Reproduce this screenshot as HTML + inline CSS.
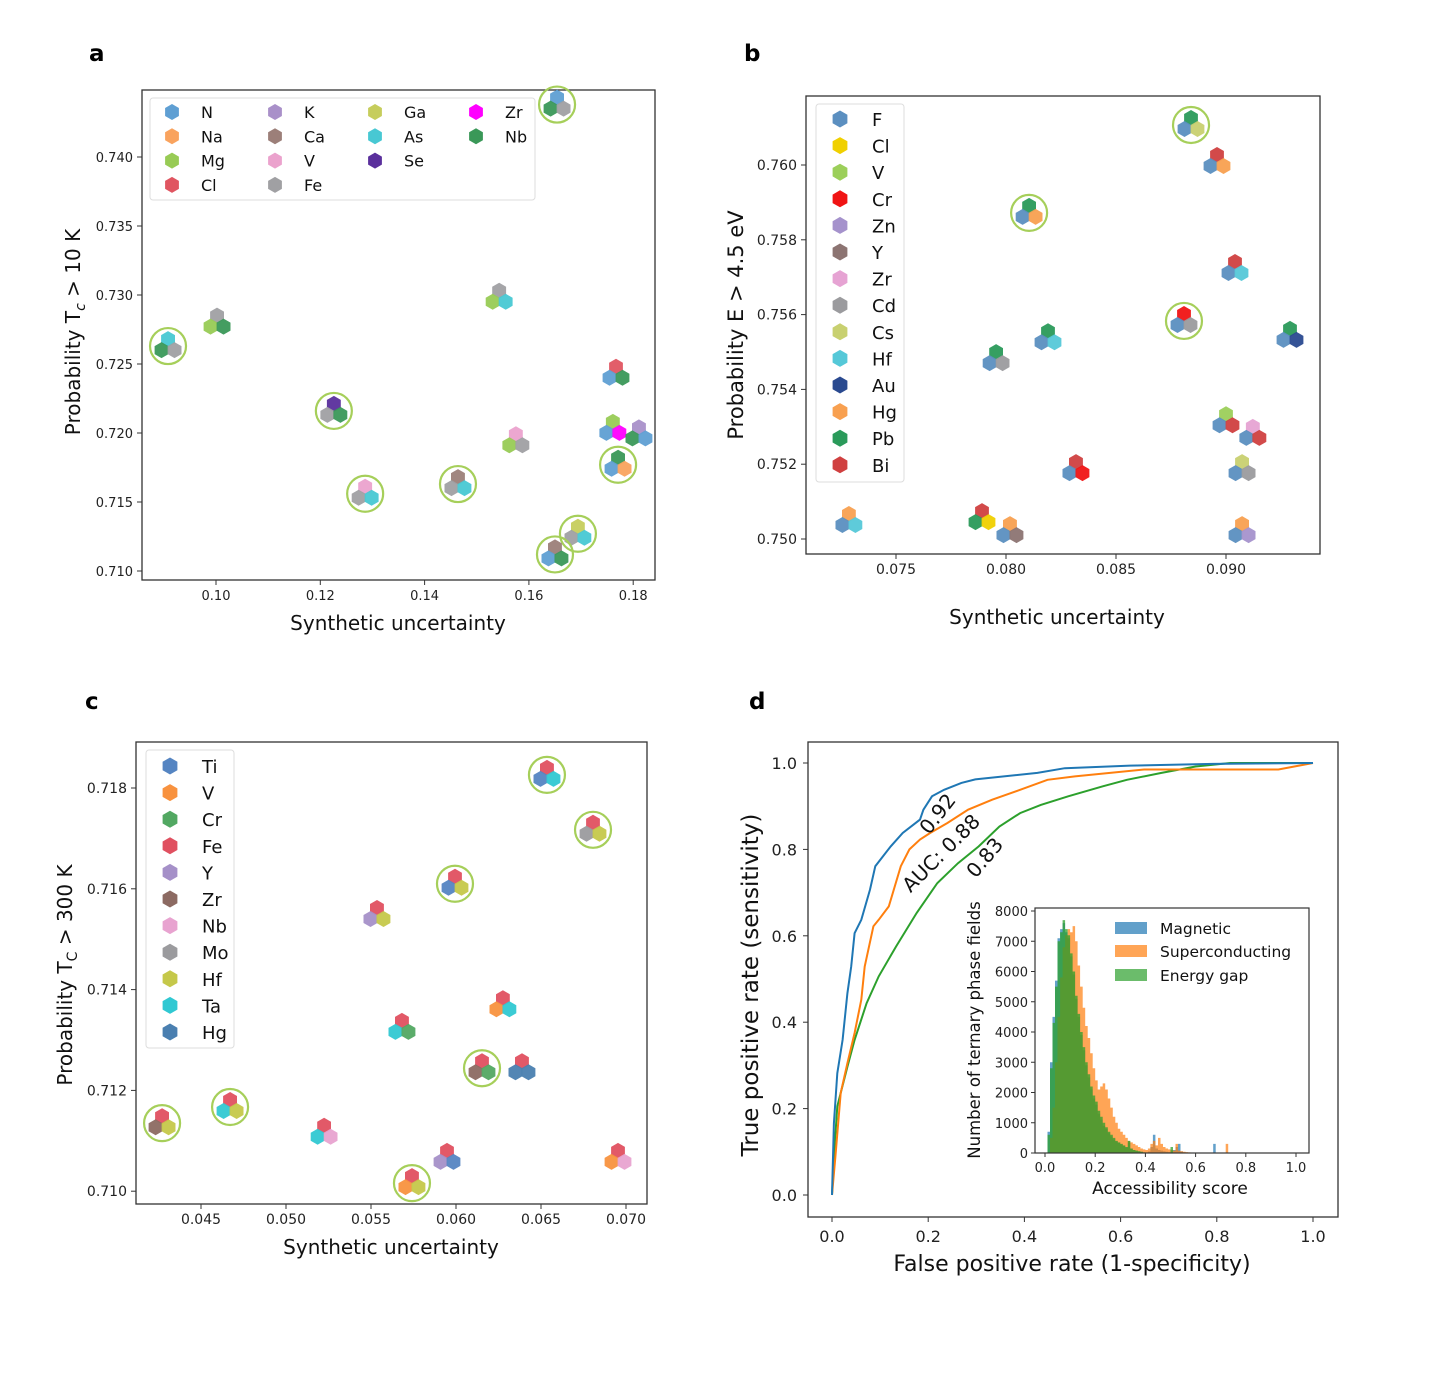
<!DOCTYPE html>
<html><head><meta charset="utf-8">
<style>
html,body{margin:0;padding:0;background:#fff;}
svg{display:block;font-family:"DejaVu Sans","Liberation Sans",sans-serif;}
</style></head>
<body>
<svg id="fig" width="1430" height="1396" viewBox="0 0 1430 1396" xmlns="http://www.w3.org/2000/svg">
<rect x="0" y="0" width="1430" height="1396" fill="#fff"/>
<text x="89" y="61" font-size="23" font-weight="bold">a</text>
<text x="744" y="61" font-size="23" font-weight="bold">b</text>
<text x="85" y="709" font-size="23" font-weight="bold">c</text>
<text x="749" y="709" font-size="23" font-weight="bold">d</text>
</svg>
<script>
// ---------- Panel a data ----------
const aX = [0.1654,0.0908,0.1002,0.1543,0.1226,0.1767,0.1761,0.1811,0.1771,0.1575,0.1286,0.1464,0.1694,0.1650];
const aY = [0.7438,0.7263,0.7280,0.7298,0.7216,0.7243,0.7203,0.7199,0.7177,0.7194,0.7156,0.7163,0.7127,0.7112];
const aTop = ["N","As","Fe","Fe","Se","Cl","Mg","K","Nb","V","V","Ca","Ga","Ca"];
const aBL = ["Nb","Nb","Mg","Mg","Fe","N","N","Nb","N","Mg","Fe","Fe","Fe","N"];
const aBR = ["Fe","Fe","Nb","As","Nb","Nb","Zr","N","Na","Fe","As","As","As","Nb"];
const aCirc = [1,1,0,0,1,0,0,0,1,0,1,1,1,1];
const aXTicks = [0.10,0.12,0.14,0.16,0.18];
const aYTicks = [0.740,0.735,0.730,0.725,0.720,0.715,0.710];
const aLegendCols = [["N","Na","Mg","Cl"],["K","Ca","V","Fe"],["Ga","As","Se"],["Zr","Nb"]];
const aColors = {N:"#5f9fd3",Na:"#f9a35e",Mg:"#98cb55",Cl:"#e05561",K:"#a990c9",Ca:"#9c7f79",V:"#eba2cd",Fe:"#a0a0a3",Ga:"#c6cd5c",As:"#48c8d3",Se:"#5a2f9c",Zr:"#ff00ff",Nb:"#3a9858"};

// ---------- Panel b data ----------
const bX = [0.08841,0.08959,0.08105,0.09041,0.08809,0.09291,0.08191,0.07955,0.09000,0.09122,0.09073,0.08318,0.07286,0.07891,0.08018,0.09073];
const bY = [0.76107,0.76008,0.75872,0.75722,0.75583,0.75543,0.75537,0.75481,0.75315,0.75281,0.75187,0.75187,0.75048,0.75056,0.75021,0.75021];
const bTop = ["Pb","Bi","Pb","Bi","Cr","Pb","Pb","Pb","V","Zr","Cs","Bi","Hg","Bi","Hg","Hg"];
const bBL = ["F","F","F","F","F","F","F","F","F","F","F","F","F","Pb","F","F"];
const bBR = ["Cs","Hg","Hg","Hf","Cd","Au","Hf","Cd","Bi","Bi","Cd","Cr","Hf","Cl","Y","Zn"];
const bCirc = [1,0,1,0,1,0,0,0,0,0,0,0,0,0,0,0];
const bXTicks = [0.075,0.080,0.085,0.090];
const bYTicks = [0.760,0.758,0.756,0.754,0.752,0.750];
const bLegend = ["F","Cl","V","Cr","Zn","Y","Zr","Cd","Cs","Hf","Au","Hg","Pb","Bi"];
const bColors = {F:"#5b8fc0",Cl:"#f0d000",V:"#9ccf5a",Cr:"#f01414",Zn:"#a592cc",Y:"#8c7472",Zr:"#e6a3d3",Cd:"#9b9b9e",Cs:"#c8d070",Hf:"#55c8d8",Au:"#2a4a90",Hg:"#f8a050",Pb:"#2a9a5a",Bi:"#d04040"};

// ---------- Panel c data ----------
const cX = [0.06535,0.06806,0.05994,0.05535,0.06276,0.05682,0.06153,0.06388,0.04671,0.04271,0.05224,0.05947,0.05741,0.06953];
const cY = [0.71826,0.71717,0.71610,0.71548,0.71369,0.71324,0.71244,0.71244,0.71167,0.71135,0.71116,0.71066,0.71016,0.71066];
const cTop = ["Fe","Fe","Fe","Fe","Fe","Fe","Fe","Fe","Fe","Fe","Fe","Fe","Fe","Fe"];
const cBL = ["Ti","Mo","Ti","Y","V","Ta","Zr","Hg","Ta","Zr","Ta","Y","V","V"];
const cBR = ["Ta","Hf","Hf","Hf","Ta","Cr","Cr","Hg","Hf","Hf","Nb","Ti","Hf","Nb"];
const cCirc = [1,1,1,0,0,0,1,0,1,1,0,0,1,0];
const cXTicks = [0.045,0.050,0.055,0.060,0.065,0.070];
const cYTicks = [0.718,0.716,0.714,0.712,0.710];
const cLegend = ["Ti","V","Cr","Fe","Y","Zr","Nb","Mo","Hf","Ta","Hg"];
const cColors = {Ti:"#5585c2",V:"#f8923f",Cr:"#52a862",Fe:"#e05060",Y:"#a590c8",Zr:"#8c6a62",Nb:"#e8a3d0",Mo:"#9b9b9e",Hf:"#c5c84a",Ta:"#30c8d2",Hg:"#4a7fb0"};

// ---------- Panel d data ----------
const rocBlueFpr = [0,0.004,0.011,0.022,0.032,0.040,0.047,0.061,0.079,0.090,0.122,0.147,0.183,0.190,0.208,0.233,0.269,0.298,0.427,0.484,0.620,0.792,1];
const rocBlueTpr = [0,0.166,0.282,0.359,0.467,0.529,0.606,0.637,0.707,0.761,0.807,0.838,0.869,0.892,0.923,0.938,0.954,0.962,0.977,0.988,0.994,0.998,1];
const rocOrangeFpr = [0,0.007,0.018,0.032,0.047,0.061,0.068,0.086,0.097,0.118,0.143,0.161,0.183,0.204,0.240,0.283,0.333,0.391,0.448,0.505,0.649,0.720,0.928,1];
const rocOrangeTpr = [0,0.089,0.236,0.305,0.375,0.452,0.529,0.622,0.637,0.668,0.761,0.800,0.823,0.838,0.861,0.892,0.915,0.938,0.961,0.969,0.985,0.985,0.985,1];
const rocGreenFpr = [0,0.004,0.011,0.018,0.032,0.047,0.072,0.097,0.133,0.176,0.219,0.262,0.305,0.348,0.391,0.434,0.491,0.563,0.613,0.685,0.756,0.828,1];
const rocGreenTpr = [0,0.089,0.205,0.236,0.297,0.359,0.444,0.506,0.575,0.653,0.722,0.768,0.807,0.853,0.884,0.903,0.923,0.946,0.961,0.977,0.992,1,1];
const dTicks = [0.0,0.2,0.4,0.6,0.8,1.0];
const histBinWidth = 0.01;
const histGreen = [0,600,2800,4300,5500,7000,7300,7700,7400,7200,6600,6000,5200,4600,4000,3500,3000,2600,2200,1900,1700,1400,1200,1000,850,700,600,500,400,350,300,250,200,400,150,100,80,60,40,20,10,0,0,0,0,0,0,0,0,0,200,0,0,0,0,0,0,0,0,0,0,0,0,0,0,0,0,0,0,0,0,0,0,0,0];
const histOrange = [0,0,500,1500,3000,4500,5800,6800,7200,7400,7300,7500,7000,6200,5500,4800,4200,3800,3300,2800,2400,2100,2200,2300,2100,1800,1500,1200,1000,800,700,600,500,400,350,300,250,200,150,120,100,150,300,400,250,500,300,200,150,120,100,80,300,80,60,40,30,20,10,5,0,0,0,0,0,0,0,0,0,0,0,0,300,0,0];
const histBlue = [0,700,3000,4500,5700,7100,7400,7600,7300,7100,6500,5900,5100,4500,3900,3400,2900,2500,2100,1800,1600,1300,1100,900,800,650,550,450,380,330,280,230,180,350,140,100,80,60,40,20,10,50,200,600,150,100,80,60,40,30,20,100,200,300,50,20,10,0,0,0,0,0,0,0,0,0,0,300,0,0,0,0,0,0,0];
const histYTicks = [0,1000,2000,3000,4000,5000,6000,7000,8000];
const histXTicks = [0.0,0.2,0.4,0.6,0.8,1.0];

const NS = "http://www.w3.org/2000/svg";
const svg = document.getElementById("fig");
function mk(tag, attrs, parent){
  const e = document.createElementNS(NS, tag);
  for (const k in attrs) e.setAttribute(k, attrs[k]);
  (parent||svg).appendChild(e);
  return e;
}
function lin(d0,d1,p0,p1){ return v => p0 + (v-d0)/(d1-d0)*(p1-p0); }
function hexPts(cx,cy,r){
  let s=[];
  for(let i=0;i<6;i++){const a=Math.PI/180*(60*i-90);s.push((cx+r*Math.cos(a)).toFixed(1)+","+(cy+r*Math.sin(a)).toFixed(1));}
  return s.join(" ");
}
function axesBox(g,x0,y0,x1,y1){
  const r = mk("rect",{x:x0,y:y0,width:x1-x0,height:y1-y0,fill:"none",stroke:"#333","stroke-width":1.3},g);
  
  
}

function scatterPanel(id, box, xdom, ydom, X, Y, T, BL, BR, C, colors, xticks, yticks, xdec, ydec, fs, hr){
  const g = mk("g",{});
  
  
  const sx = lin(xdom[0],xdom[1],box.x0,box.x1);
  const sy = lin(ydom[0],ydom[1],box.y1,box.y0);
  axesBox(g,box.x0,box.y0,box.x1,box.y1);
  xticks.forEach(t=>{
    const px=sx(t);
    mk("line",{x1:px,y1:box.y1,x2:px,y2:box.y1+5,stroke:"#333"},g);
    const tx=mk("text",{x:px,y:box.y1+20,"font-size":fs,"text-anchor":"middle",fill:"#222"},g);
    tx.textContent=t.toFixed(xdec);
    
    
  });
  yticks.forEach(t=>{
    const py=sy(t);
    mk("line",{x1:box.x0-5,y1:py,x2:box.x0,y2:py,stroke:"#333"},g);
    const tx=mk("text",{x:box.x0-9,y:py+5,"font-size":fs,"text-anchor":"end",fill:"#222"},g);
    tx.textContent=t.toFixed(ydec);
    
    
  });
  for(let i=0;i<X.length;i++){
    const cx=sx(X[i]), cy=sy(Y[i]);
    const pg=mk("g",{},g);
    
    
    [[T[i],0,-7],[BL[i],-6.5,4],[BR[i],6.5,4]].forEach(m=>{
      mk("polygon",{points:hexPts(cx+m[1],cy+m[2],hr),fill:colors[m[0]],opacity:0.95},pg);
    });
    if(C[i]){
      const c=mk("circle",{cx:cx,cy:cy,r:18,fill:"none",stroke:"#a6cf5a","stroke-width":2.2},pg);
      
      
    }
  }
  return g;
}

function legendBox(g,x,y,w,h){
  const r=mk("rect",{x:x,y:y,width:w,height:h,rx:3,fill:"#fff",stroke:"#ddd","stroke-width":1},g);
  
  
}

// Panel a
const gA = (function(){
  const xd=[0.10-(216-142)/104.3*0.02, 0.10+(655-216)/104.3*0.02];
  const yd=[0.740-(580-157)/69*0.005, 0.740+(157-90)/69*0.005];
  return scatterPanel("a",{x0:142,y0:90,x1:655,y1:580},xd,yd,aX,aY,aTop,aBL,aBR,aCirc,aColors,aXTicks,aYTicks,2,3,13,8);
})();
legendBox(gA,150,98,385,102);
aLegendCols.forEach((colItems,col)=>{
  colItems.forEach((n,row)=>{
    const mx=[172,275,375,476][col], ty=112+row*24.3;
    const it=mk("g",{},gA);
    
    
    mk("polygon",{points:hexPts(mx,ty,8),fill:aColors[n]},it);
    const t=mk("text",{x:mx+29,y:ty+6,"font-size":16,fill:"#111"},it); t.textContent=n;
  });
});
{
  const t=mk("text",{x:398,y:630,"font-size":20,"text-anchor":"middle",fill:"#111"});
  t.textContent="Synthetic uncertainty";
   
  const y=mk("text",{transform:"translate(80,332) rotate(-90)","font-size":20,"text-anchor":"middle",fill:"#111"});
  y.innerHTML='Probability T<tspan font-size="14" font-style="italic" dy="5">c</tspan><tspan dy="-5"> &gt; 10 K</tspan>';
   
}

// Panel b
const gB = (function(){
  const px=22/0.001, py=37.4/0.001;
  const xd=[0.080-(1006-806)/px, 0.080+(1320-1006)/px];
  const yd=[0.760-(554-165)/py, 0.760+(165-96)/py];
  return scatterPanel("b",{x0:806,y0:96,x1:1320,y1:554},xd,yd,bX,bY,bTop,bBL,bBR,bCirc,bColors,bXTicks,bYTicks,3,3,14,8);
})();
legendBox(gB,816,104,88,378);
bLegend.forEach((n,i)=>{
  const ty=119+i*26.6;
  const it=mk("g",{},gB);
  
  
  mk("polygon",{points:hexPts(840,ty,8.5),fill:bColors[n]},it);
  const t=mk("text",{x:872,y:ty+7,"font-size":18,fill:"#111"},it); t.textContent=n;
});
{
  const t=mk("text",{x:1057,y:624,"font-size":20,"text-anchor":"middle",fill:"#111"});
  t.textContent="Synthetic uncertainty";
   
  const y=mk("text",{transform:"translate(743,325) rotate(-90)","font-size":21,"text-anchor":"middle",fill:"#111"});
  y.textContent="Probability E > 4.5 eV";
   
}

// Panel c
const gC = (function(){
  const px=17/0.001, py=50.4/0.001;
  const xd=[0.045-(201-136)/px, 0.045+(647-201)/px];
  const yd=[0.718-(1204-788)/py, 0.718+(788-742)/py];
  return scatterPanel("c",{x0:136,y0:742,x1:647,y1:1204},xd,yd,cX,cY,cTop,cBL,cBR,cCirc,cColors,cXTicks,cYTicks,3,3,14,8);
})();
legendBox(gC,146,750,88,298);
cLegend.forEach((n,i)=>{
  const ty=766+i*26.6;
  const it=mk("g",{},gC);
  
  
  mk("polygon",{points:hexPts(170,ty,8.5),fill:cColors[n]},it);
  const t=mk("text",{x:202,y:ty+7,"font-size":18,fill:"#111"},it); t.textContent=n;
});
{
  const t=mk("text",{x:391,y:1254,"font-size":20,"text-anchor":"middle",fill:"#111"});
  t.textContent="Synthetic uncertainty";
   
  const y=mk("text",{transform:"translate(72,975) rotate(-90)","font-size":20,"text-anchor":"middle",fill:"#111"});
  y.innerHTML='Probability T<tspan font-size="14" dy="5">C</tspan><tspan dy="-5"> &gt; 300 K</tspan>';
   
}

// Panel d
const gD = mk("g",{});


{
  const sx=lin(0,1,832,1313), sy=lin(0,1,1195,763);
  axesBox(gD,808,742,1338,1217);
  dTicks.forEach(t=>{
    mk("line",{x1:sx(t),y1:1217,x2:sx(t),y2:1222,stroke:"#333"},gD);
    const a=mk("text",{x:sx(t),y:1242,"font-size":16,"text-anchor":"middle",fill:"#222"},gD); a.textContent=t.toFixed(1);
     
    mk("line",{x1:803,y1:sy(t),x2:808,y2:sy(t),stroke:"#333"},gD);
    const b=mk("text",{x:797,y:sy(t)+6,"font-size":16,"text-anchor":"end",fill:"#222"},gD); b.textContent=t.toFixed(1);
     
  });
  const series=[[rocGreenFpr,rocGreenTpr,"#2ca02c","roc-energy-gap"],[rocOrangeFpr,rocOrangeTpr,"#ff7f0e","roc-superconducting"],[rocBlueFpr,rocBlueTpr,"#1f77b4","roc-magnetic"]];
  series.forEach(s=>{
    let d="";
    s[0].forEach((v,i)=>{d+=(i?"L":"M")+sx(v).toFixed(1)+","+sy(s[1][i]).toFixed(1);});
    const p=mk("path",{d:d,fill:"none",stroke:s[2],"stroke-width":2},gD);
    
    
  });
  [["0.92",943,818,-52],["AUC: 0.88",946,858,-45],["0.83",990,862,-50]].forEach(l=>{
    const t=mk("text",{transform:`translate(${l[1]},${l[2]}) rotate(${l[3]})`,"font-size":20,"text-anchor":"middle",fill:"#111"},gD);
    t.textContent=l[0];
     
  });
  const xt=mk("text",{x:1072,y:1271,"font-size":22,"text-anchor":"middle",fill:"#111"},gD);
  xt.textContent="False positive rate (1-specificity)";
   
  const yt=mk("text",{transform:"translate(758,985) rotate(-90)","font-size":23,"text-anchor":"middle",fill:"#111"},gD);
  yt.textContent="True positive rate (sensitivity)";
   

  // inset histogram
  const gi=mk("g",{},gD);
  
  
  mk("rect",{x:1035,y:908,width:274,height:245,fill:"#fff"},gi);
  const hx=lin(0,1,1045,1296), hy=lin(0,8000,1153,911);
  const hs=[[histBlue,"#1f77b4",0.7,"hist-magnetic"],[histOrange,"#ff7f0e",0.7,"hist-superconducting"],[histGreen,"#2ca02c",0.75,"hist-energy-gap"]];
  hs.forEach(h=>{
    let d="M"+hx(0).toFixed(1)+","+hy(0).toFixed(1);
    h[0].forEach((v,i)=>{d+="L"+hx(i*histBinWidth).toFixed(1)+","+hy(v).toFixed(1)+"L"+hx((i+1)*histBinWidth).toFixed(1)+","+hy(v).toFixed(1);});
    d+="L"+hx(h[0].length*histBinWidth).toFixed(1)+","+hy(0).toFixed(1)+"Z";
    const p=mk("path",{d:d,fill:h[1],"fill-opacity":h[2],stroke:"none"},gi);
    
    
  });
  mk("rect",{x:1035,y:908,width:274,height:245,fill:"none",stroke:"#333","stroke-width":1.2},gi);
  histYTicks.forEach(t=>{
    mk("line",{x1:1031,y1:hy(t),x2:1035,y2:hy(t),stroke:"#333"},gi);
    const a=mk("text",{x:1028,y:hy(t)+5,"font-size":13,"text-anchor":"end",fill:"#222"},gi); a.textContent=String(t);
     
  });
  histXTicks.forEach(t=>{
    mk("line",{x1:hx(t),y1:1153,x2:hx(t),y2:1157,stroke:"#333"},gi);
    const a=mk("text",{x:hx(t),y:1172,"font-size":13,"text-anchor":"middle",fill:"#222"},gi); a.textContent=t.toFixed(1);
     
  });
  const ix=mk("text",{x:1170,y:1194,"font-size":17,"text-anchor":"middle",fill:"#111"},gi);
  ix.textContent="Accessibility score";
   
  const iy=mk("text",{transform:"translate(980,1030) rotate(-90)","font-size":16.5,"text-anchor":"middle",fill:"#111"},gi);
  iy.textContent="Number of ternary phase fields";
   
  [["Magnetic","#1f77b4",928],["Superconducting","#ff7f0e",951],["Energy gap","#2ca02c",975]].forEach(l=>{
    const it=mk("g",{},gi);
    
    
    mk("rect",{x:1115,y:l[2]-6,width:32,height:12,fill:l[1],"fill-opacity":0.7},it);
    const t=mk("text",{x:1160,y:l[2]+6,"font-size":15.5,fill:"#111"},it); t.textContent=l[0];
  });
}
</script>
</body></html>
